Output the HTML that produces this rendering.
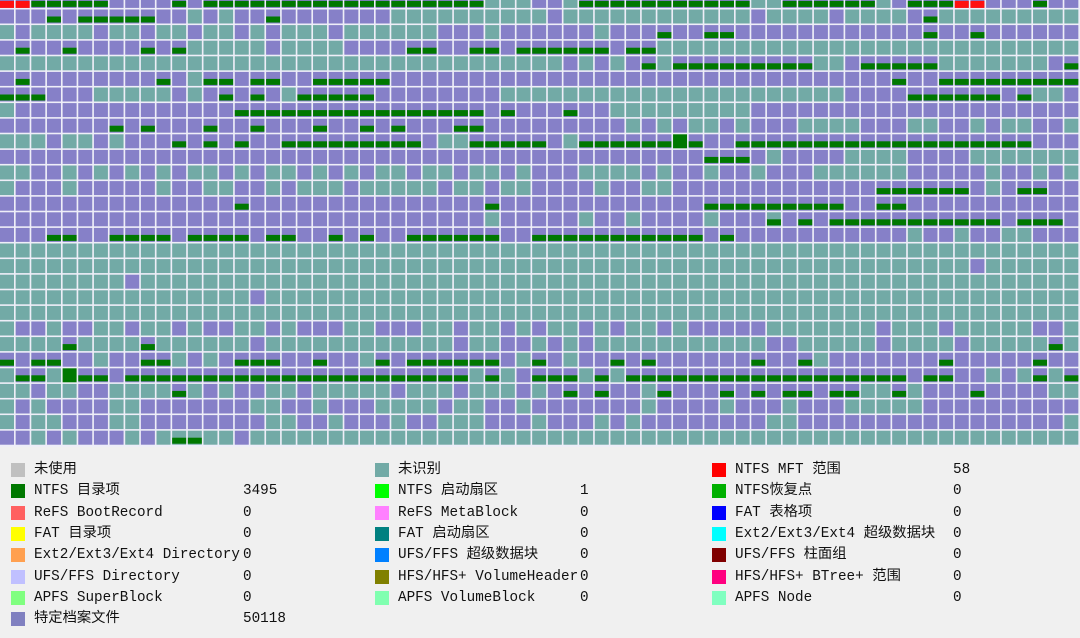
<!DOCTYPE html>
<html><head><meta charset="utf-8">
<style>
html,body{margin:0;padding:0;width:1080px;height:638px;overflow:hidden;background:#f0f0f0;}
#map{position:absolute;left:0;top:0;width:1080px;height:447px;background:#eeeef8;overflow:hidden;}
#legend{position:absolute;left:0;top:447px;width:1080px;height:191px;background:#f0f0f0;}
.item{position:absolute;height:21px;font-family:"Liberation Mono","Noto Sans CJK SC",monospace;font-size:14.3px;color:#111;white-space:nowrap;line-height:21px;}
.sw{position:absolute;width:14px;height:14px;top:3px;}
.lbl{position:absolute;top:0;}
.val{position:absolute;top:0;}
</style></head><body>
<svg id="map" width="1080" height="447"></svg>
<div id="legend"></div>
<script>
// Cell kinds: p = specific file (purple), t = unidentified (teal), P/T = with NTFS dir-entry bar, G = full NTFS dir, R = MFT range
const rows = [
"RRPPPPPppppPpPPPPPPPPPPPPPPPPPPtttpptPPPPPPPPPPPttPPPPPPtpPPPRRpppPppp",
"pppPpPPPPPpptptppPpppppppttttttttttpttttttttttttpttttpttttpPtttttttttt",
"tpttttpttpttpttptptttpttttttppptpppppptpppPppPPppppppppppppPppPppppppt",
"pPppPppppPpPtttttpttttppppPPppPPpPPPPPPpPPttttttttttttttttttttttttttt",
"ttttttttttttttttttttttttttttttttttttptptpPtPPPPPPPPPttpPPPPPtttttttpPtt",
"pPppppppppPptPPpPPppPPPPPppppppppppppppppppppppppppppppppPppPPPPPPPPPP",
"PPPppptttttptpPpPptPPPPPppppppppttttttttttttttttttttttppppPPPPPPpPttpt",
"tppppppppppppppPPPPPPPPPPPPPPPPpPpppPpptttttttttppppppppppppppppppppp",
"pppppppPpPpppPppPpppPppPpPpppPPppppppppptptpttptpppttttpppttpptpttpp",
"tttpttptpppPpPpPppPPPPPPPPPpttPPPPPptPPPPPPGPppPPPPPPPPPPPPPPPPPPPppp",
"pppppppppppppppppppppppppppppppppppppppppppppPPPptppppttttppppttttttt",
"ttpptptptptpttptpttptptpttpttpttptpppttttptpptpptpppttttttppppptpptp",
"tppptppppptppttpptptttptttttpttpttpppptppttpppppppppppppPPPPPPptpPPpp",
"pppppppppppppppPpppppppppppppppPpppppppppppppPPPPPPPPPppPPpppppppppppp",
"ppppppppppppppppppppppppppppppptppppptpptpppptpppTpPpPPPPPPPPPPPpPPPppP",
"pppPPppPPPPpPPPPpPPppPpPppPPPPPPppPPPPPPPPPPPpPppppppppppptpptppttpppRt",
"ttttttttttttttttttttttttttttttttttttttttttttttttttttttttttttttttttttt",
"ttttttttttttttttttttttttttttttttttttttttttttttttttttttttttttttpttttttt",
"ttttttttpttttttttttttttttttttttttttttttttttttttttttttttttttttttttttttt",
"ttttttttttttttttptttttttttttttttttttttttttttttttttttttttttttttttttttt",
"ttttttttttttttttttttttttttttttttttttttttttttttttttttttttttttttttttttt",
"tpptppttpttptppttptpppttpppttpttptpttptpttptppppptttttttptttptttttppt",
"ttttPttttPttttttpttttttttttttpttpptptptttttttttttpptttttpttttptttttPtt",
"PpPPpptppPPtptpPPPppPpptPpPPPPPPptPptppPpPppppppPppPtpppppppPpppppPpp",
"tPPtGPPpPPPPPPPPPPPPPPPPPPPPPPtPtpPPPtPtPPPPPPPPPPPPPPPPPPpPPpptptPtP",
"ttpttppttttPtptppttptttttptttptttptpPpPpptPpppPpPpPPpPPttPtpppPpppp",
"tptppppttpppppppttpptpppttttpttpptppppppptpppptppptppptttttpppppppppp",
"tpttpppttppppppppttpptppptpptttppptppptptppppppppttppppppppppppppppp",
"pptptppptptTTttpttttttttttttttttttttttttttttttttttttttttttttttttttttt"
];
const COLS = 69, PITCH_X = 1080/69, PITCH_Y = 15.6, Y0 = -6.1, CW = 14, CH = 14;
const fill = {p:'#8680c8', t:'#72aaa6'};
const svg = document.getElementById('map');
const NS = 'http://www.w3.org/2000/svg';
function rect(x,y,w,h,c,name){
  const r = document.createElementNS(NS,'rect');
  r.setAttribute('x',x.toFixed(2));r.setAttribute('y',y.toFixed(2));
  r.setAttribute('width',w);r.setAttribute('height',h);r.setAttribute('fill',c);
  
  
  svg.appendChild(r);
}
rows.forEach((row,ri)=>{
  for(let ci=0;ci<COLS;ci++){
    const k = row[ci] || 't';
    const x = ci*PITCH_X, y = Y0 + ri*PITCH_Y;
    if(k==='G'){ rect(x,y,CW,CH,'#007800','cluster-ntfs-dir'); continue; }
    const base = (k==='T'||k==='t') ? fill.t : fill.p;
    rect(x,y,CW,CH,base,'cluster');
    if(k==='P'||k==='T') rect(x,y+7,CW,6,'#007800','ntfs-dir-bar');
    if(k==='R') rect(x,y+7,CW,7,'#ff1010','mft-range-bar');
  }
});
const labels = [
 ["未使用","#c0c0c0",""],["未识别","#72aaa6",""],["NTFS MFT 范围","#ff0000","58"],
 ["NTFS 目录项","#007800","3495"],["NTFS 启动扇区","#00ff00","1"],["NTFS恢复点","#00b000","0"],
 ["ReFS BootRecord","#ff6060","0"],["ReFS MetaBlock","#ff80ff","0"],["FAT 表格项","#0000ff","0"],
 ["FAT 目录项","#ffff00","0"],["FAT 启动扇区","#008080","0"],["Ext2/Ext3/Ext4 超级数据块","#00ffff","0"],
 ["Ext2/Ext3/Ext4 Directory","#ffa050","0"],["UFS/FFS 超级数据块","#0080ff","0"],["UFS/FFS 柱面组","#800000","0"],
 ["UFS/FFS Directory","#c0c0ff","0"],["HFS/HFS+ VolumeHeader","#808000","0"],["HFS/HFS+ BTree+ 范围","#ff0080","0"],
 ["APFS SuperBlock","#80ff80","0"],["APFS VolumeBlock","#80ffb0","0"],["APFS Node","#80ffc0","0"],
 ["特定档案文件","#8080c0","50118"]
];
const colX=[11,375,712], valX=[243,580,953];
const leg=document.getElementById('legend');
labels.forEach((l,i)=>{
  const c=i%3, r=Math.floor(i/3);
  const d=document.createElement('div');d.className='item';
  
  
  d.style.left=colX[c]+'px';d.style.top=(13+r*21.3)+'px';
  d.innerHTML='<span class="sw" style="left:0;background:'+l[1]+'"></span><span class="lbl" style="left:23px">'+l[0]+'</span><span class="val" style="left:'+(valX[c]-colX[c])+'px">'+l[2]+'</span>';
  leg.appendChild(d);
});
</script>
</body></html>
